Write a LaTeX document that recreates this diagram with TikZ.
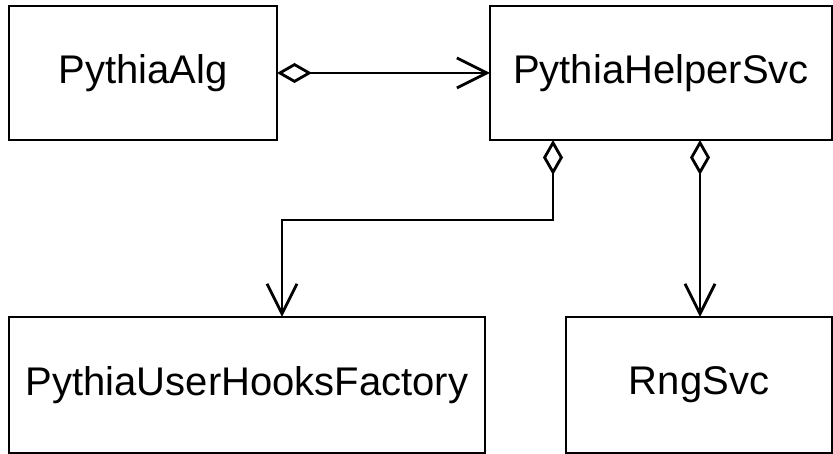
\documentclass[tikz,border=0pt]{standalone}
\usepackage{fontspec}
\setmainfont{Liberation Sans}
\usetikzlibrary{arrows.meta,calc}
\begin{document}
\begin{tikzpicture}[x=1pt,y=1pt,
  box/.style={draw=black, line width=2.8pt, inner sep=0pt, outer sep=0pt,
    anchor=north west, font=\fontsize{40pt}{48pt}\selectfont},
  aggr/.style={draw=black, line width=2.8pt, line join=miter,
    {Diamond[open, length=35pt, width=20pt]}-{Straight Barb[length=30pt, width=30pt, line join=miter]}}
]
\useasboundingbox (0,0) rectangle (833,454);
\node[box, minimum width=268pt, minimum height=134pt] (alg) at (9,448) {PythiaAlg};
\node[box, minimum width=342pt, minimum height=134pt] (helper) at (490,448) {PythiaHelperSvc};
\node[box, minimum width=476pt, minimum height=136pt] (factory) at (9,137) {PythiaUserHooksFactory};
\node[box, minimum width=266pt, minimum height=136pt] (rng) at (566,137) {RngSvc};

\draw[aggr] (alg.east) -- (helper.west);
\coordinate (h1) at ($(helper.south west)+(63,0)$);
\coordinate (h2) at ($(helper.south west)+(210,0)$);
\coordinate (f1) at ($(factory.north west)+(273,0)$);
\draw[aggr] (h1) -- ++(0,-80) -| (f1);
\draw[aggr] (h2) -- (h2 |- rng.north);
\end{tikzpicture}
\end{document}
